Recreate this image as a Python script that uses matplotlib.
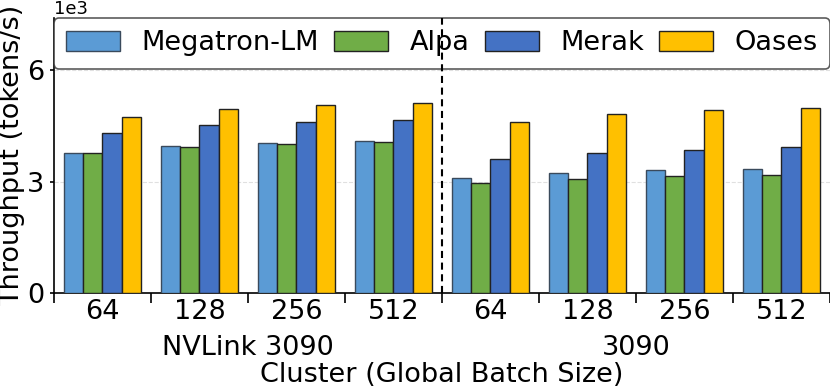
import matplotlib
matplotlib.use("Agg")
import matplotlib.pyplot as plt
import numpy as np

clusters = ["NVLink 3090", "3090"]
batch_sizes = ["64", "128", "256", "512"]
systems = ["Megatron-LM", "Alpa", "Merak", "Oases"]
colors = ["#5B9BD5", "#70AD47", "#4472C4", "#FFC000"]

megatron = [3780, 3960, 4050, 4100, 3090, 3240, 3300, 3340]
alpa     = [3760, 3940, 4020, 4070, 2950, 3080, 3150, 3190]
merak    = [4320, 4510, 4610, 4670, 3610, 3780, 3860, 3920]
oases    = [4740, 4950, 5050, 5120, 4610, 4820, 4940, 4990]
series = [megatron, alpa, merak, oases]

FS = 19.5

fig = plt.figure(figsize=(8.3, 3.87), dpi=100)
ax = fig.add_axes([0.065, 0.243, 0.935, 0.71])

n = len(megatron)
x = np.arange(n)
w = 0.2
edges = ["#3a4a5c", "#222222", "#222222", "#222222"]
for k, (vals, c, name) in enumerate(zip(series, colors, systems)):
    ax.bar(x + 0.2 + k * w, vals, width=w, color=c, edgecolor=edges[k],
           linewidth=1.0, label=name, zorder=3)

ax.set_xlim(0, n)
ax.set_ylim(0, 7400)
ax.set_yticks([0, 3000, 6000])
ax.ticklabel_format(axis="y", style="sci", scilimits=(3, 3))
ax.yaxis.get_offset_text().set_fontsize(13)
ax.yaxis.grid(True, linestyle="--", color="#e0e0e0", linewidth=0.8, zorder=0)

ax.set_xticks(np.arange(0, n + 1))
ax.set_xticklabels([])
ax.set_xticks(x + 0.5, minor=True)
ax.set_xticklabels(batch_sizes * 2, minor=True)
ax.tick_params(axis="x", which="minor", length=0, pad=4, labelsize=FS)
ax.tick_params(axis="x", which="major", length=7, width=1.2)
ax.tick_params(axis="y", labelsize=FS, length=3, width=1.2, pad=4)

ax.axvline(4, color="black", linestyle="--", linewidth=1.5, dashes=(3.4, 2.2), zorder=6)

for i, name in enumerate(clusters):
    ax.text(2 + 4 * i, -0.2244, name, transform=ax.get_xaxis_transform(),
            ha="center", va="baseline", fontsize=FS)

ax.text(4, -0.3225, "Cluster (Global Batch Size)", transform=ax.get_xaxis_transform(),
        ha="center", va="baseline", fontsize=FS)
ax.set_ylabel("Throughput (tokens/s)", fontsize=FS, labelpad=1)

for s in ["top", "right"]:
    ax.spines[s].set_visible(False)
ax.spines["left"].set_linewidth(1.2)
ax.spines["bottom"].set_linewidth(1.2)

leg = ax.legend(loc="upper center", bbox_to_anchor=(0.5, 1.0), ncol=4,
                fontsize=FS, handlelength=2.0, handleheight=0.75,
                handletextpad=0.8, columnspacing=0.55, frameon=True,
                fancybox=True, borderpad=0.45, borderaxespad=0.0)
leg.get_frame().set_edgecolor("#333333")
leg.get_frame().set_linewidth(1.2)

fig.savefig("out.png", dpi=100)
